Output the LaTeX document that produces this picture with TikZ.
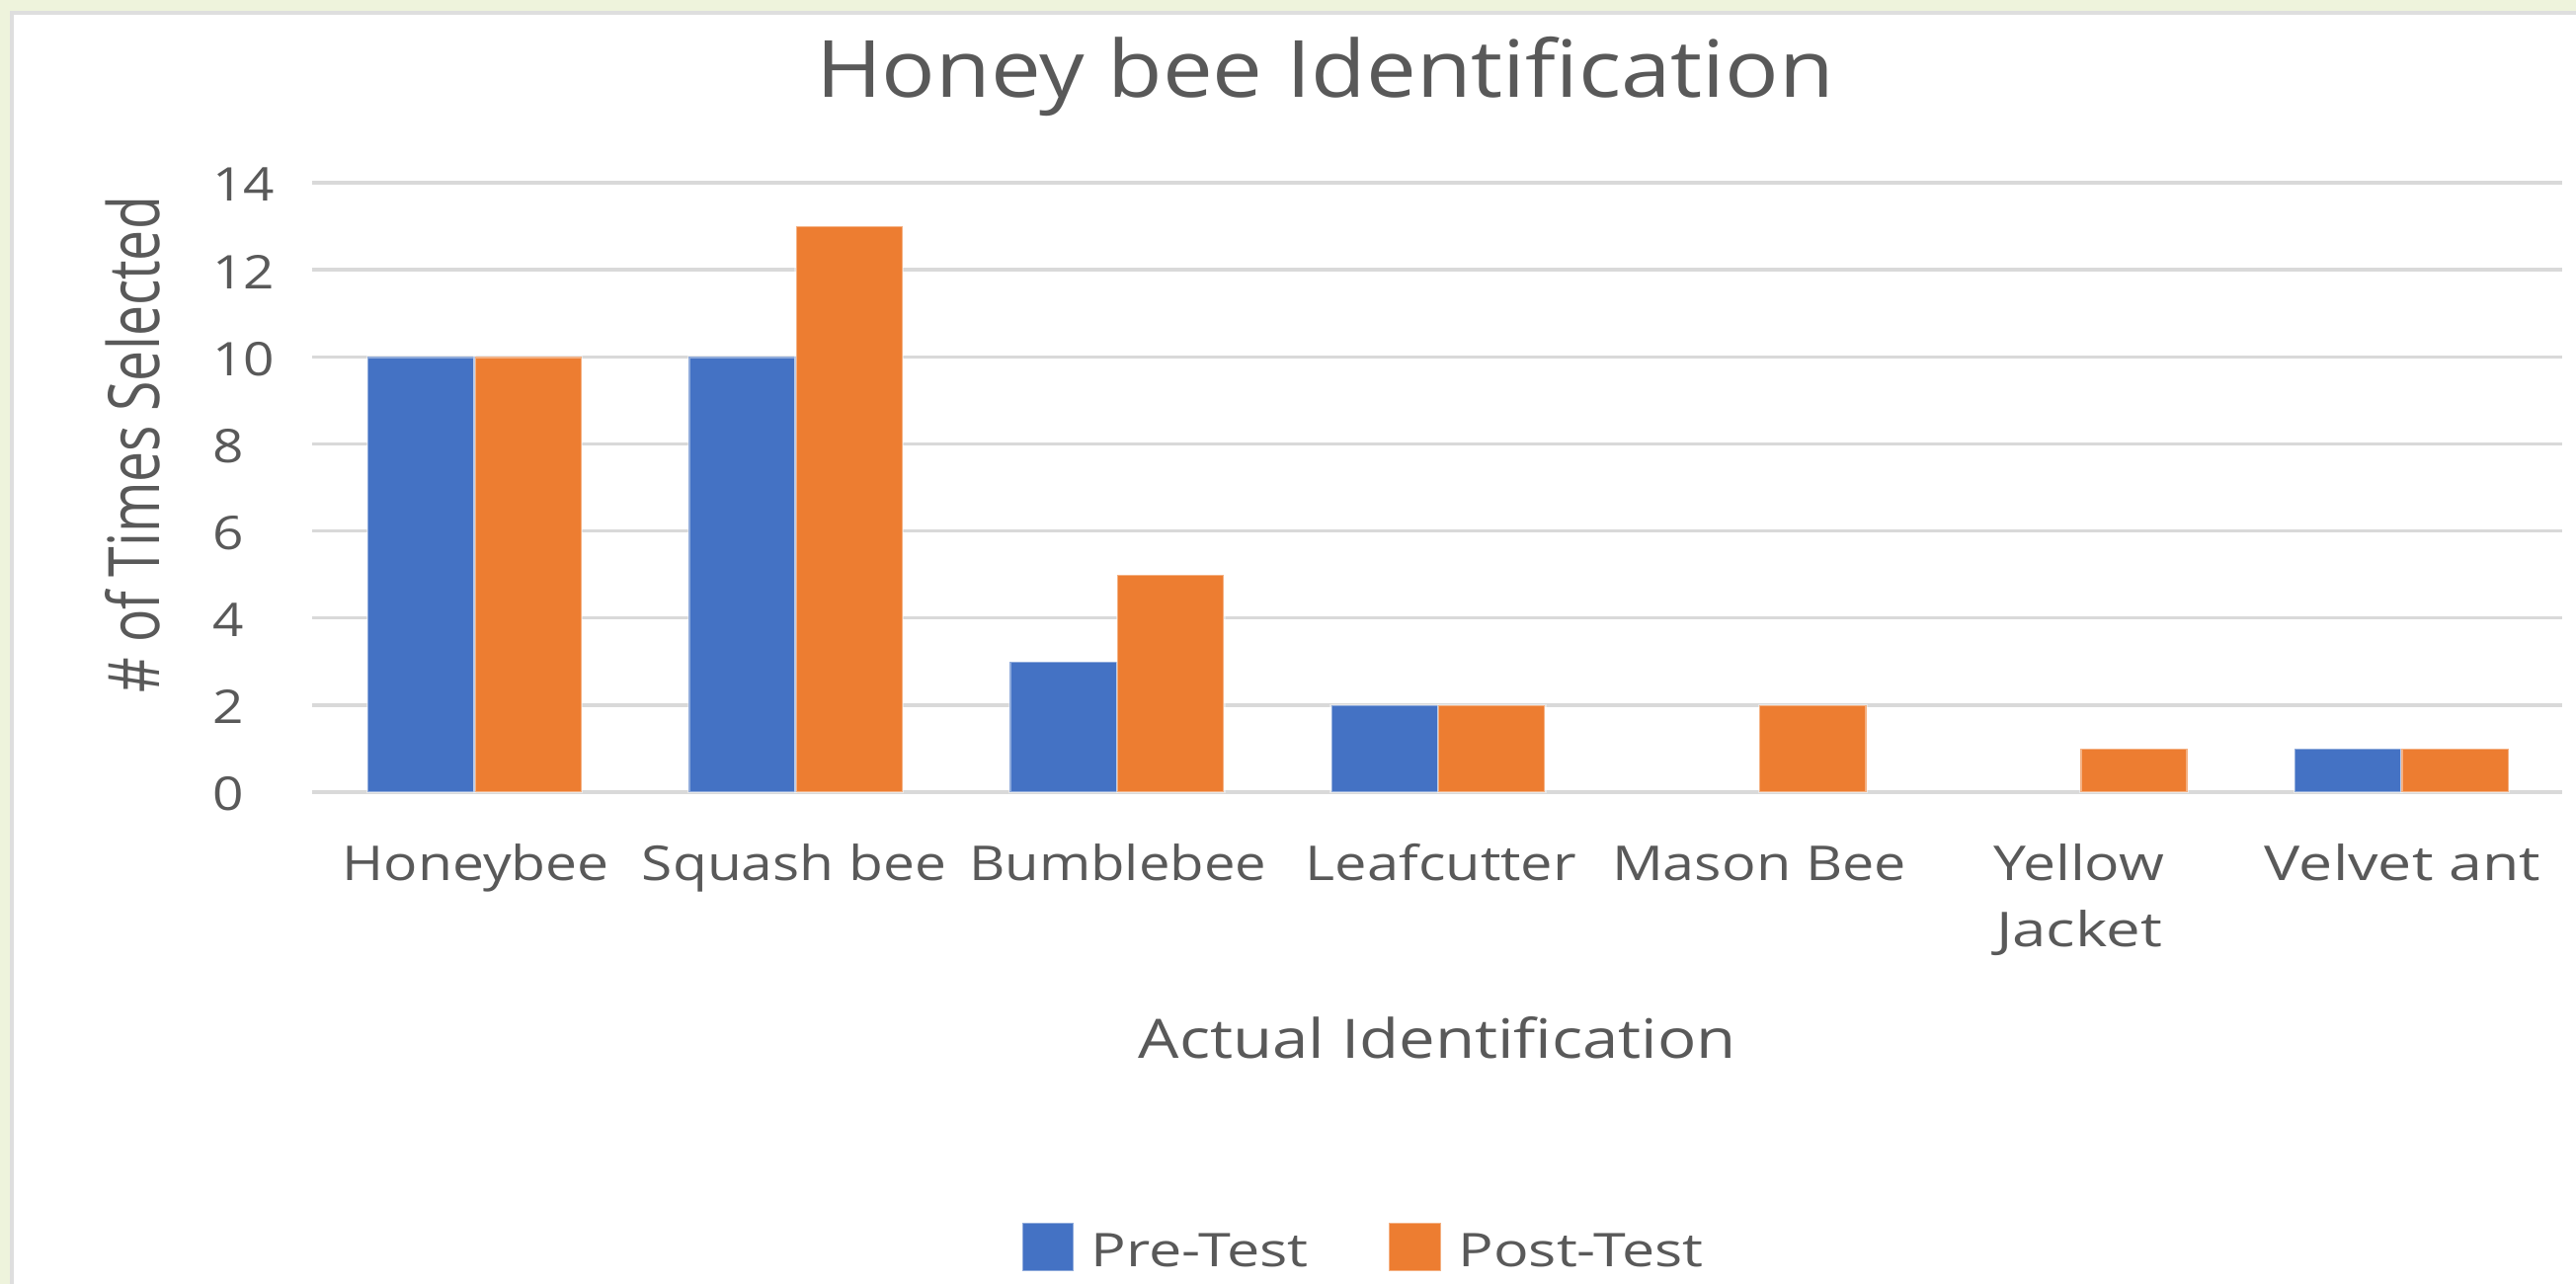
\documentclass[tikz,border=0pt]{standalone}
\usepackage{fontspec}
\setmainfont{Open Sans}
\usepackage{graphicx}
\definecolor{txtgray}{HTML}{595959}
\definecolor{gridgray}{HTML}{D9D9D9}
\definecolor{preblue}{HTML}{4472C4}
\definecolor{postorange}{HTML}{ED7D31}
\definecolor{framegreen}{HTML}{EEF3DC}
\definecolor{framegray}{HTML}{DEDEDE}
\newcommand{\fitw}[2]{\resizebox{#1}{\height}{#2}}
\newcommand{\hsx}[1]{\scalebox{1.17}[1]{#1}}
\tikzset{
  txt/.style={text=txtgray, inner sep=0pt, outer sep=0pt},
  gridline/.style={draw=gridgray, line width=3.5pt},
  prebar/.style={fill=preblue, draw=white, draw opacity=0.4, line width=2.5pt},
  postbar/.style={fill=postorange, draw=white, draw opacity=0.4, line width=2.5pt},
}
\begin{document}
\begin{tikzpicture}[x=1pt,y=-1pt]
\useasboundingbox (0,0) rectangle (2608,1300);
% background and frame
\fill[white] (0,0) rectangle (2608,1300);
\fill[framegreen] (0,0) rectangle (2608,11);
\fill[framegreen] (0,0) rectangle (10,1300);
\fill[framegray] (10,11) rectangle (2608,15);
\fill[framegray] (10,11) rectangle (14,1300);
% gridlines and tick labels
\foreach \v in {0,2,...,14}{
  \draw[gridline] (316,{802-44.07*\v}) -- (2594,{802-44.07*\v});
  \node[txt, anchor=west, font=\fontsize{47}{56}\selectfont] (tick\v) at (215,{804-44.07*\v}) {\hsx{\v}};
}
% bars
\foreach \i/\a/\b in {0/10/10,1/10/13,2/3/5,3/2/2,4/0/2,5/0/1,6/1/1}{
  \pgfmathsetmacro{\cx}{480.6+325.14*\i}
  \ifnum\a>0 \path[prebar] ({\cx-108.4},802) rectangle (\cx,{802-44.07*\a}); \fi
  \ifnum\b>0 \path[postbar] (\cx,802) rectangle ({\cx+108.4},{802-44.07*\b}); \fi
}
% title
\node[txt, anchor=base, font=\fontsize{80}{96}\selectfont] (title) at (1341.5,99) {\fitw{1031pt}{Honey bee Identification}};
% category labels
\tikzset{catlab/.style={txt, anchor=base, font=\fontsize{48.6}{58}\selectfont}}
\node[catlab] (c1) at (481.7,891) {\fitw{270pt}{Honeybee}};
\node[catlab] (c2) at (804,891) {\fitw{308pt}{Squash bee}};
\node[catlab] (c3) at (1131.6,891) {\fitw{301pt}{Bumblebee}};
\node[catlab] (c4) at (1458.9,891) {\fitw{274pt}{Leafcutter}};
\node[catlab] (c5) at (1781,891) {\fitw{298pt}{Mason Bee}};
\node[catlab] (c6a) at (2104.5,891) {\fitw{173pt}{Yellow}};
\node[catlab] (c6b) at (2105,958.3) {\fitw{168pt}{Jacket}};
\node[catlab] (c7) at (2432.4,891) {\fitw{279pt}{Velvet ant}};
% axis titles
\node[txt, anchor=base, font=\fontsize{55}{66}\selectfont] (xtitle) at (1455.5,1071) {\fitw{605pt}{Actual Identification}};
\node[txt, anchor=base, rotate=90] (ytitle) at (161.7,450) {\resizebox{502pt}{55pt}{\fontsize{55}{66}\selectfont\# of Times Selected}};
% legend
\path[prebar] (1035,1238) rectangle (1087,1287);
\path[postbar] (1406,1238) rectangle (1459,1287);
\node[txt, anchor=base west, font=\fontsize{47}{56}\selectfont] (lpre) at (1104.6,1282) {\fitw{220pt}{Pre-Test}};
\node[txt, anchor=base west, font=\fontsize{47}{56}\selectfont] (lpost) at (1476.5,1282) {\fitw{248pt}{Post-Test}};
\end{tikzpicture}
\end{document}
